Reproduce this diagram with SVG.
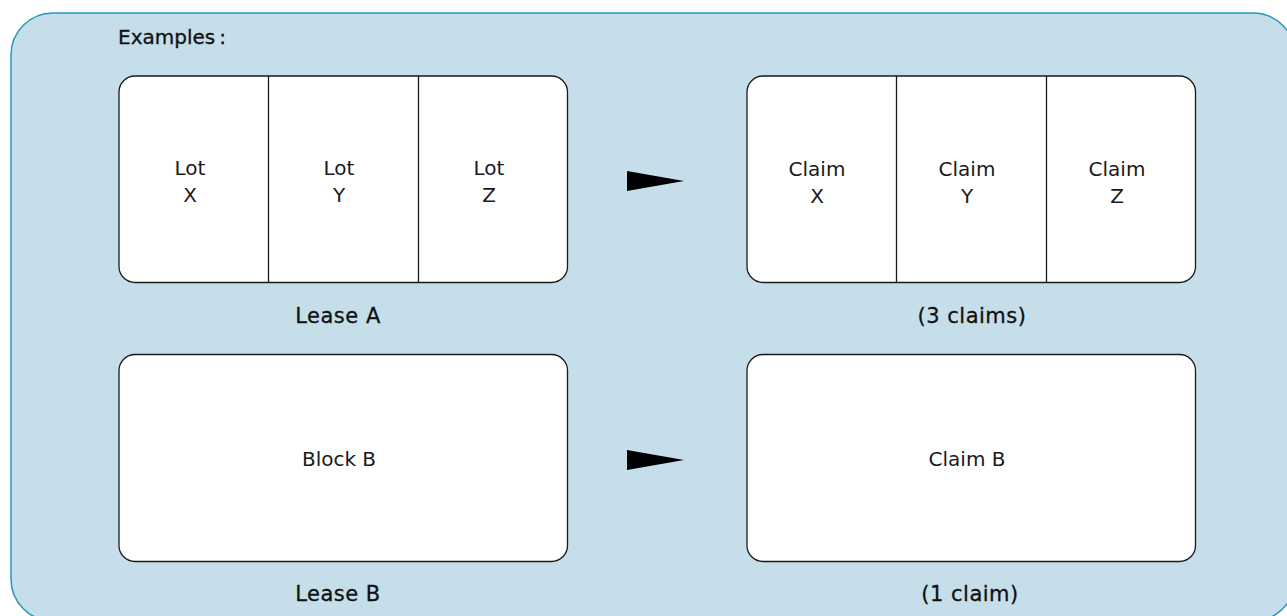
<svg xmlns="http://www.w3.org/2000/svg" width="1287" height="616" viewBox="0 0 1287 616">
<style>
.panel{fill:#c5deea;stroke:#2497bd;stroke-width:1.5}
.box{fill:#ffffff;stroke:#1a1a1a;stroke-width:1.3}
.div{stroke:#1a1a1a;stroke-width:1.3}
.in{font-family:"DejaVu Sans","Liberation Sans",sans-serif;font-size:20px;fill:#1a1a1a;text-anchor:middle}
.lbl{font-family:"DejaVu Sans","Liberation Sans",sans-serif;font-size:21px;letter-spacing:0.5px;fill:#111;text-anchor:middle;stroke:#111;stroke-width:0.3}
.title{font-family:"DejaVu Sans","Liberation Sans",sans-serif;font-size:20px;fill:#111;stroke:#111;stroke-width:0.3}
.arrow{fill:#000}
</style>
<rect class="panel" x="11" y="13" width="1284" height="608" rx="42"/>
<text class="title" x="118" y="44">Examples<tspan dx="4">:</tspan></text>

<g id="leaseA">
<rect class="box" x="119" y="76" width="448.5" height="206.5" rx="16"/>
<line class="div" x1="268.5" y1="76" x2="268.5" y2="282.5"/>
<line class="div" x1="418.5" y1="76" x2="418.5" y2="282.5"/>
<text class="in" x="190" y="175">Lot</text><text class="in" x="190" y="202">X</text>
<text class="in" x="339" y="175">Lot</text><text class="in" x="339" y="202">Y</text>
<text class="in" x="489" y="175">Lot</text><text class="in" x="489" y="202">Z</text>
</g>
<text class="lbl" x="338" y="323">Lease A</text>

<g id="claimsXYZ">
<rect class="box" x="747" y="76" width="448.5" height="206.5" rx="16"/>
<line class="div" x1="896.5" y1="76" x2="896.5" y2="282.5"/>
<line class="div" x1="1046.5" y1="76" x2="1046.5" y2="282.5"/>
<text class="in" x="817" y="176">Claim</text><text class="in" x="817" y="203">X</text>
<text class="in" x="967" y="176">Claim</text><text class="in" x="967" y="203">Y</text>
<text class="in" x="1117" y="176">Claim</text><text class="in" x="1117" y="203">Z</text>
</g>
<text class="lbl" x="972" y="323">(3 claims)</text>

<g id="blockB">
<rect class="box" x="119" y="354.5" width="448.5" height="207" rx="16"/>
<text class="in" x="339" y="466">Block B</text>
</g>
<text class="lbl" x="338" y="601">Lease B</text>

<g id="claimB">
<rect class="box" x="747" y="354.5" width="448.5" height="207" rx="16"/>
<text class="in" x="967" y="466">Claim B</text>
</g>
<text class="lbl" x="970" y="601">(1 claim)</text>

<g id="connectors">
<polygon class="arrow" points="627,171 684,181 627,191"/>
<polygon class="arrow" points="627,450 684,460 627,470"/>
</g>
</svg>
